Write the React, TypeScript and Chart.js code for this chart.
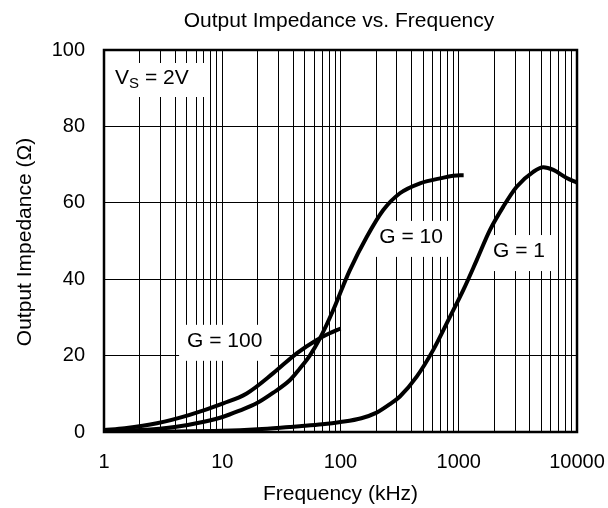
import React, { useEffect, useRef } from "react";
import { Chart, registerables } from "chart.js";

Chart.register(...registerables);

// Frequency (kHz) and output impedance (Ω) per gain
const g1Freq = [1, 3, 10, 20, 37, 45, 70, 100, 150, 200, 262, 318, 441, 609, 844, 1094, 1419, 1838, 2381, 3090, 4266, 5190, 6310, 8180, 10000];
const g1Z = [0, 0.1, 0.3, 0.7, 1.3, 1.5, 2.0, 2.6, 3.6, 5.0, 7.3, 9.3, 14.5, 21.5, 30.2, 37.2, 45, 52.9, 59, 64.2, 68.1, 69.3, 68.6, 66.5, 65.3];

const g10Freq = [1, 2, 4.1, 7, 10.2, 14, 19.5, 27, 37.4, 45, 55, 67, 87, 106, 120, 167, 230, 318, 470, 694, 1025, 1100];
const g10Z = [0.2, 0.5, 1.4, 2.7, 4.0, 5.6, 7.5, 10.3, 13.6, 16.5, 20, 24.5, 32, 38.5, 42.4, 51.1, 58.1, 62.5, 65.1, 66.4, 67.2, 67.2];

const g100Freq = [1, 1.5, 2.8, 5.3, 10.2, 16.1, 27, 42.6, 63, 80, 100];
const g100Z = [0.5, 1.0, 2.3, 4.5, 7.5, 10.1, 15.4, 20.6, 24.1, 25.8, 27.1];

const xTickValues = [1, 2, 3, 4, 5, 6, 7, 8, 9, 10, 20, 30, 40, 50, 60, 70, 80, 90, 100, 200, 300, 400, 500, 600, 700, 800, 900, 1000, 2000, 3000, 4000, 5000, 6000, 7000, 8000, 9000, 10000];
const yTickValues = [0, 20, 40, 60, 80, 100];

const titleText = "Output Impedance vs. Frequency";
const xTitle = "Frequency (kHz)";
const yTitle = "Output Impedance (Ω)";

// in-plot labels: text, anchor frequency (center), anchor impedance (baseline)
const gainLabels = [
  { text: "G = 100", f: 10.5, z: 22.3 },
  { text: "G = 10", f: 395, z: 49.5 },
  { text: "G = 1", f: 3236, z: 45.8 },
];
const supplyLabel = { f: 1.24, z: 91.1 };

const FONT = "'Liberation Sans', Arial, sans-serif";

const toPoints = (xs: number[], ys: number[]) => xs.map((x, i) => ({ x, y: ys[i] }));

const decorPlugin = {
  id: "decor",
  beforeDatasetsDraw(chart: any) {
    const ctx = chart.ctx;
    const xs = chart.scales.x;
    const ys = chart.scales.y;
    const area = chart.chartArea;
    ctx.save();
    ctx.font = `21px ${FONT}`;
    ctx.textBaseline = "alphabetic";
    ctx.textAlign = "center";
    for (const l of gainLabels) {
      const cx = xs.getPixelForValue(l.f);
      const by = ys.getPixelForValue(l.z);
      const w = ctx.measureText(l.text).width;
      ctx.fillStyle = "#fff";
      ctx.fillRect(cx - w / 2 - 8, by - 22, w + 16, 36);
      ctx.fillStyle = "#000";
      ctx.fillText(l.text, cx, by);
    }
    // V_S = 2V
    const lx = xs.getPixelForValue(supplyLabel.f);
    const by = ys.getPixelForValue(supplyLabel.z);
    ctx.textAlign = "left";
    ctx.font = `21px ${FONT}`;
    const wV = ctx.measureText("V").width;
    ctx.font = `15px ${FONT}`;
    const wS = ctx.measureText("S").width;
    ctx.font = `21px ${FONT}`;
    const wR = ctx.measureText(" = 2V").width;
    const total = wV + wS + wR;
    ctx.fillStyle = "#fff";
    ctx.fillRect(area.left + 1, by - 21, lx - area.left + total + 20, 34);
    ctx.fillStyle = "#000";
    ctx.fillText("V", lx, by);
    ctx.font = `15px ${FONT}`;
    ctx.fillText("S", lx + wV, by + 4);
    ctx.font = `21px ${FONT}`;
    ctx.fillText(" = 2V", lx + wV + wS, by);
    ctx.restore();
  },
  afterDraw(chart: any) {
    const ctx = chart.ctx;
    const area = chart.chartArea;
    ctx.save();
    ctx.strokeStyle = "#000";
    ctx.lineWidth = 2.5;
    ctx.strokeRect(area.left, area.top, area.right - area.left, area.bottom - area.top);
    ctx.fillStyle = "#000";
    ctx.font = `21px ${FONT}`;
    ctx.textAlign = "center";
    ctx.textBaseline = "alphabetic";
    ctx.fillText(titleText, 339, 27);
    ctx.fillText(xTitle, (area.left + area.right) / 2, 500);
    ctx.translate(31, 242);
    ctx.rotate(-Math.PI / 2);
    ctx.fillText(yTitle, 0, 0);
    ctx.restore();
  },
};

const lineStyle = {
  borderColor: "#000",
  borderWidth: 4,
  pointRadius: 0,
  fill: false,
  cubicInterpolationMode: "monotone" as const,
};

export default function App() {
  const ref = useRef<HTMLCanvasElement>(null);
  useEffect(() => {
    if (!ref.current) return;
    const chart = new Chart(ref.current, {
      type: "line",
      data: {
        datasets: [
          { label: "G = 1", data: toPoints(g1Freq, g1Z), ...lineStyle },
          { label: "G = 10", data: toPoints(g10Freq, g10Z), ...lineStyle },
          { label: "G = 100", data: toPoints(g100Freq, g100Z), ...lineStyle },
        ],
      },
      options: {
        animation: false,
        responsive: true,
        maintainAspectRatio: false,
        layout: { padding: { left: 0, top: 50, right: 31, bottom: 0 } },
        plugins: {
          legend: { display: false },
          title: { display: false },
          tooltip: { enabled: false },
        },
        scales: {
          x: {
            type: "logarithmic",
            min: 1,
            max: 10000,
            afterBuildTicks: (s: any) => {
              s.ticks = xTickValues.map((v) => ({ value: v }));
            },
            afterFit: (s: any) => {
              s.height = 76;
              s.paddingLeft = 0;
              s.paddingRight = 0;
            },
            grid: { color: "#000", lineWidth: 1, drawTicks: false },
            border: { display: false },
            ticks: {
              autoSkip: false,
              maxRotation: 0,
              padding: 18,
              color: "#000",
              font: { family: FONT, size: 20 },
              callback: (v: any) => {
                const n = Number(v);
                const l = Math.log10(n);
                return Math.abs(l - Math.round(l)) < 1e-9 ? String(n) : "";
              },
            },
          },
          y: {
            type: "linear",
            min: 0,
            max: 100,
            afterBuildTicks: (s: any) => {
              s.ticks = yTickValues.map((v) => ({ value: v }));
            },
            afterFit: (s: any) => {
              s.width = 104;
              s.paddingTop = 0;
              s.paddingBottom = 0;
            },
            grid: { color: "#000", lineWidth: 1, drawTicks: false },
            border: { display: false },
            ticks: {
              padding: 19,
              color: "#000",
              font: { family: FONT, size: 20 },
            },
          },
        },
      },
      plugins: [decorPlugin],
    });
    return () => chart.destroy();
  }, []);
  return (
    <div style={{ position: "absolute", left: 0, top: 0, width: 608, height: 508, background: "#fff" }}>
      <canvas ref={ref} />
    </div>
  );
}
